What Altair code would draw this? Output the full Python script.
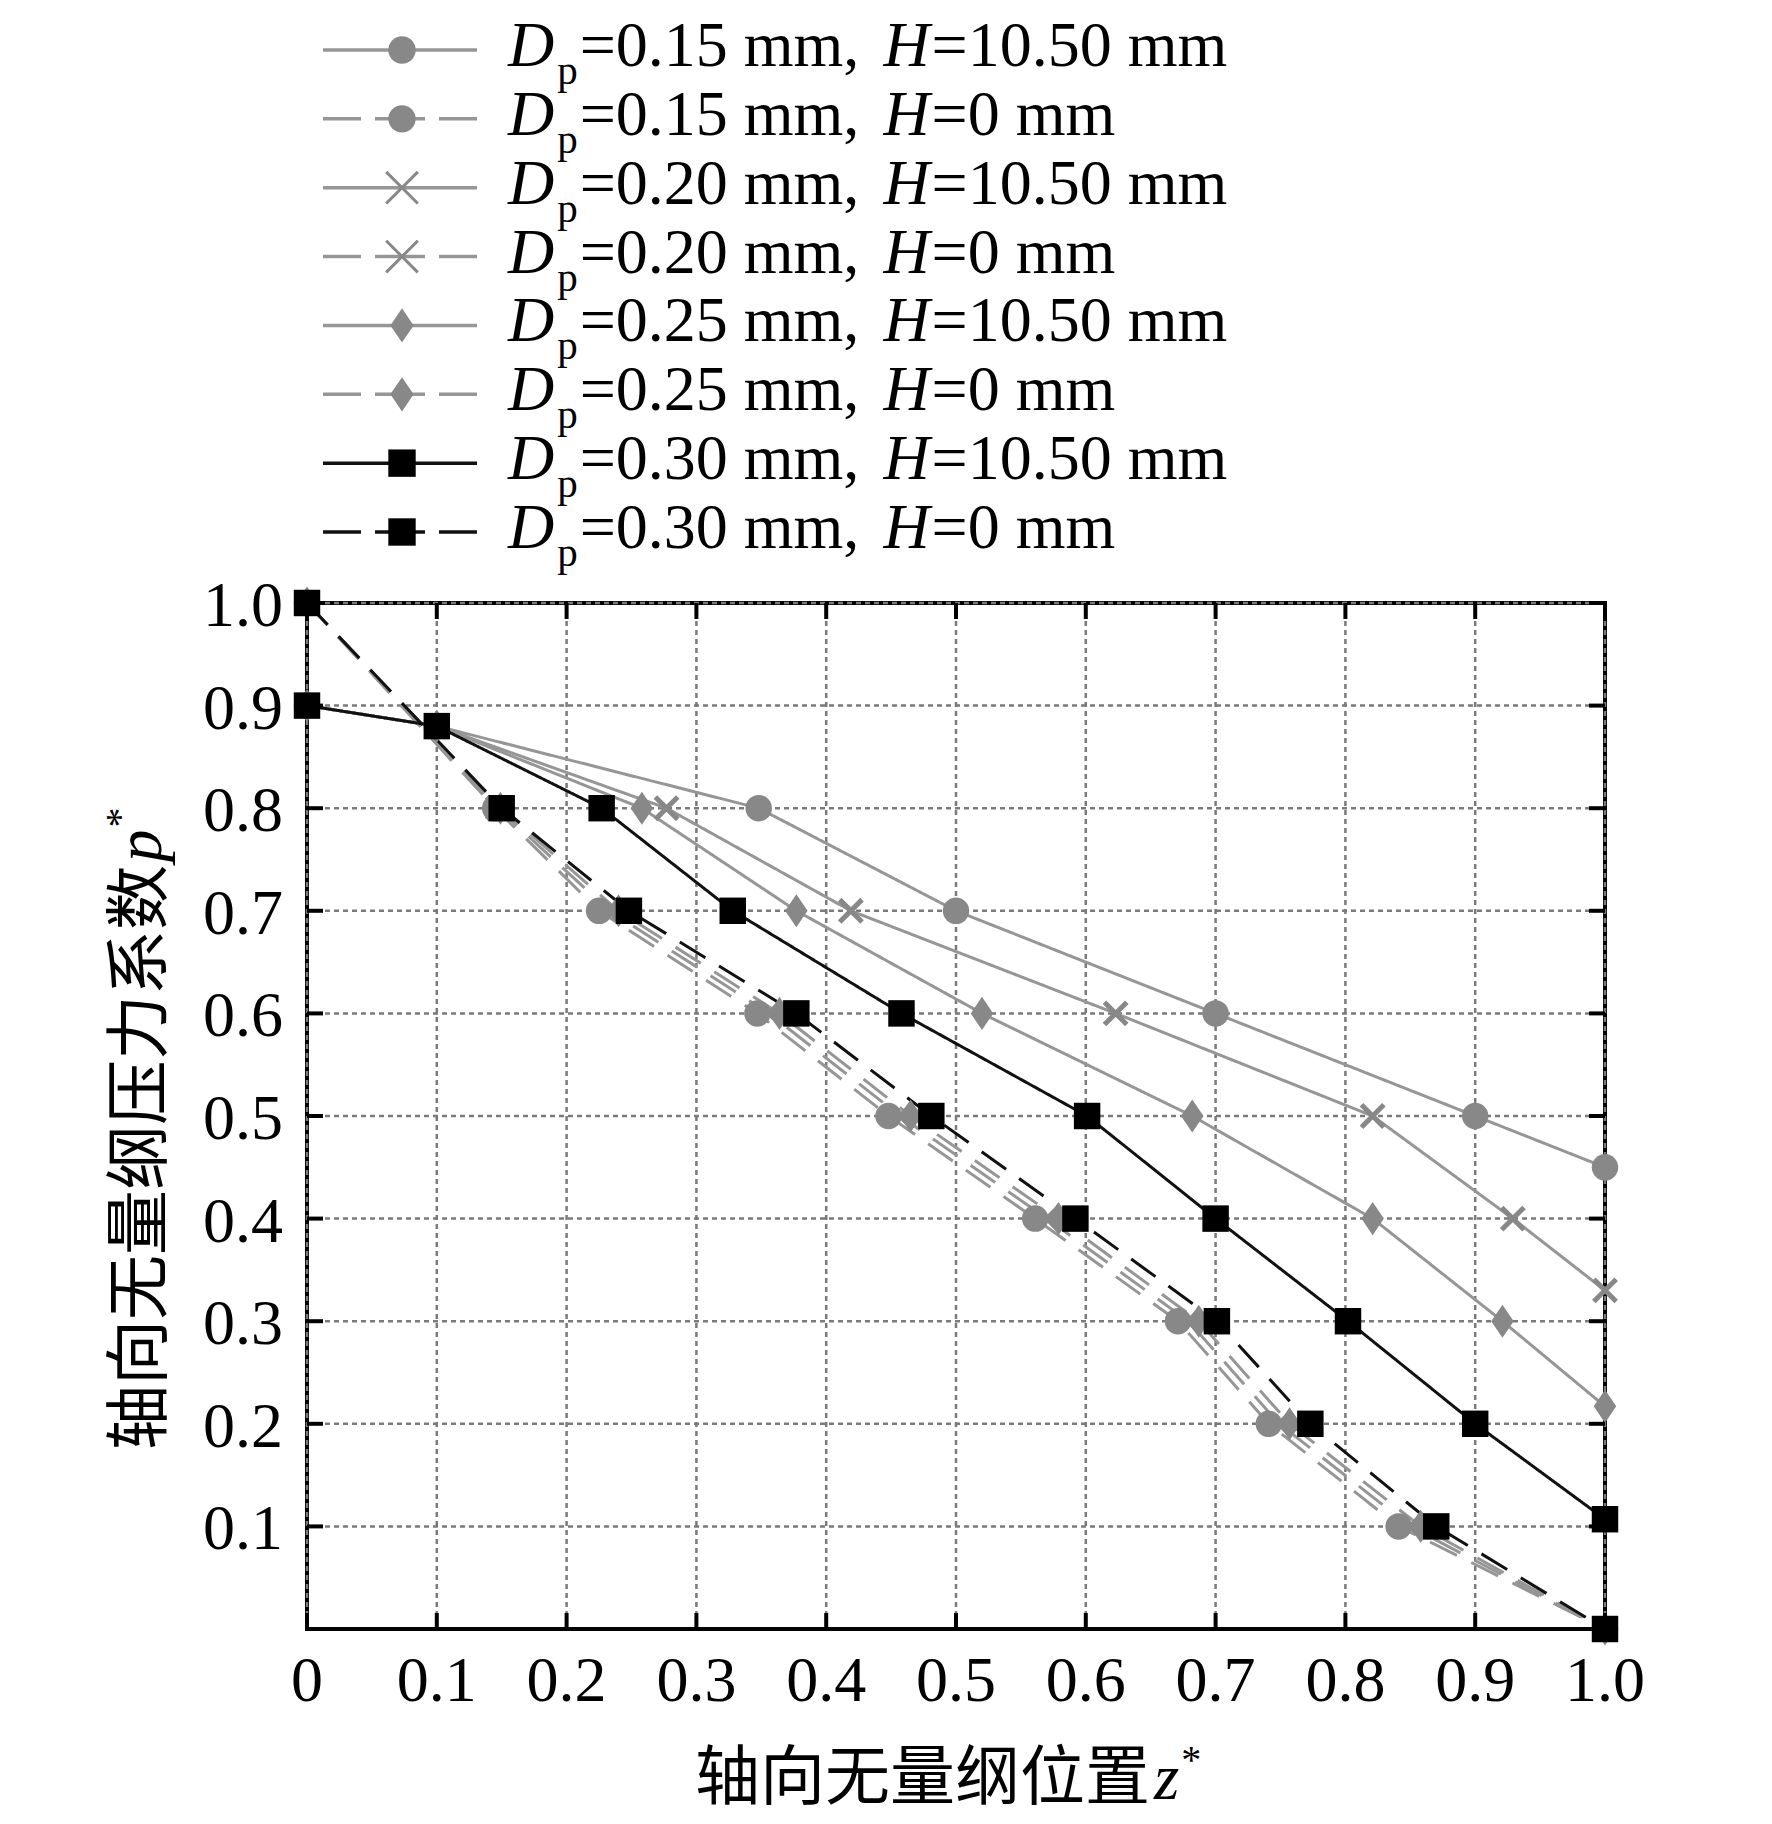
import altair as alt
import pandas as pd

# ------------------------------------------------------------------
# data
# ------------------------------------------------------------------
dp_labels = ["0.15", "0.20", "0.25", "0.30"]
h_labels = ["10.50", "0"]

z_015_h1050 = [0.0, 0.1, 0.348, 0.5, 0.7, 0.9, 1.0]
p_015_h1050 = [0.9, 0.88, 0.8, 0.7, 0.6, 0.5, 0.45]
z_015_h0 = [0.0, 0.145, 0.225, 0.347, 0.448, 0.561, 0.671, 0.741, 0.841, 1.0]
p_015_h0 = [1.0, 0.8, 0.7, 0.6, 0.5, 0.4, 0.3, 0.2, 0.1, 0.0]

z_020_h1050 = [0.0, 0.1, 0.277, 0.419, 0.623, 0.821, 0.929, 1.0]
p_020_h1050 = [0.9, 0.88, 0.8, 0.7, 0.6, 0.5, 0.4, 0.33]
z_020_h0 = [0.0, 0.147, 0.233, 0.356, 0.457, 0.570, 0.679, 0.749, 0.850, 1.0]
p_020_h0 = [1.0, 0.8, 0.7, 0.6, 0.5, 0.4, 0.3, 0.2, 0.1, 0.0]

z_025_h1050 = [0.0, 0.1, 0.258, 0.377, 0.52, 0.682, 0.821, 0.921, 1.0]
p_025_h1050 = [0.9, 0.88, 0.8, 0.7, 0.6, 0.5, 0.4, 0.3, 0.217]
z_025_h0 = [0.0, 0.149, 0.240, 0.364, 0.465, 0.579, 0.687, 0.757, 0.858, 1.0]
p_025_h0 = [1.0, 0.8, 0.7, 0.6, 0.5, 0.4, 0.3, 0.2, 0.1, 0.0]

z_030_h1050 = [0.0, 0.1, 0.227, 0.328, 0.458, 0.601, 0.7, 0.802, 0.9, 1.0]
p_030_h1050 = [0.9, 0.88, 0.8, 0.7, 0.6, 0.5, 0.4, 0.3, 0.2, 0.107]
z_030_h0 = [0.0, 0.15, 0.248, 0.377, 0.481, 0.592, 0.701, 0.773, 0.870, 1.0]
p_030_h0 = [1.0, 0.8, 0.7, 0.6, 0.5, 0.4, 0.3, 0.2, 0.1, 0.0]

x_tick_values = [0.0, 0.1, 0.2, 0.3, 0.4, 0.5, 0.6, 0.7, 0.8, 0.9, 1.0]
y_tick_values = [0.1, 0.2, 0.3, 0.4, 0.5, 0.6, 0.7, 0.8, 0.9, 1.0]

x_title_cn = "轴向无量纲位置"
x_title_var = "z"
y_title_cn = "轴向无量纲压力系数"
y_title_var = "p"

# ------------------------------------------------------------------
series = [
    ("0.15", "10.50", z_015_h1050, p_015_h1050),
    ("0.15", "0", z_015_h0, p_015_h0),
    ("0.20", "10.50", z_020_h1050, p_020_h1050),
    ("0.20", "0", z_020_h0, p_020_h0),
    ("0.25", "10.50", z_025_h1050, p_025_h1050),
    ("0.25", "0", z_025_h0, p_025_h0),
    ("0.30", "10.50", z_030_h1050, p_030_h1050),
    ("0.30", "0", z_030_h0, p_030_h0),
]
rows = []
for dp, h, zs, ps in series:
    for z, p in zip(zs, ps):
        rows.append({"series": f"{dp}|{h}", "dp": dp, "h": h, "z": z, "p": p})
df = pd.DataFrame(rows)

W, H = 1298, 1026
SERIF = "Liberation Serif"
CJK = "Noto Sans CJK SC"
GRAY_LINE = "#969696"
GRAY_MK = "#888888"
BLACK = "#000000"
GRID = "#7a7a7a"
DIAMOND = "M0,-1.25L0.85,0L0,1.25L-0.85,0Z"
XSHAPE = "M-1,-1L1,1M1,-1L-1,1"

xs = alt.Scale(domain=[0, 1], nice=False, zero=False)
ys = alt.Scale(domain=[0, 1], nice=False, zero=False)
stroke_scale = alt.Scale(domain=dp_labels, range=[GRAY_LINE, GRAY_LINE, GRAY_LINE, "#111111"])
fill_scale = alt.Scale(domain=dp_labels, range=[GRAY_MK, GRAY_MK, GRAY_MK, BLACK])
shape_scale = alt.Scale(domain=["0.15", "0.25", "0.30"], range=["circle", DIAMOND, "square"])
dash_scale = alt.Scale(domain=h_labels, range=[[1, 0], [30, 16]])


def X(f):
    return alt.X(f, scale=xs, axis=None)


def Y(f):
    return alt.Y(f, scale=ys, axis=None)


xt = pd.DataFrame({"v": x_tick_values})
yt = pd.DataFrame({"v": y_tick_values})

# dotted grid
grid_x = alt.Chart(xt).mark_rule(color=GRID, strokeWidth=2.5, strokeDash=[5, 4]).encode(
    x=X("v:Q"), y=alt.value(0), y2=alt.value(H))
grid_y = alt.Chart(yt).mark_rule(color=GRID, strokeWidth=2.5, strokeDash=[5, 4]).encode(
    y=Y("v:Q"), x=alt.value(0), x2=alt.value(W))

# tick labels
LBL = 64
lab_x = alt.Chart(xt).transform_calculate(
    lab="datum.v == 0 ? '0' : format(datum.v, '.1f')"
).mark_text(font=SERIF, fontSize=LBL, align="center", baseline="top", color="black").encode(
    x=X("v:Q"), y=alt.value(H + 21), text="lab:N")
lab_y = alt.Chart(yt).transform_calculate(
    lab="format(datum.v, '.1f')"
).mark_text(font=SERIF, fontSize=LBL, align="right", baseline="middle", dy=4, color="black").encode(
    y=Y("v:Q"), x=alt.value(-24), text="lab:N")

lines = alt.Chart(df).mark_line(strokeWidth=3).encode(
    x=X("z:Q"),
    y=Y("p:Q"),
    stroke=alt.Stroke("dp:N", scale=stroke_scale, legend=None),
    strokeDash=alt.StrokeDash("h:N", scale=dash_scale, legend=None),
    detail="series:N",
)

pts_gray = alt.Chart(df[df.dp.isin(["0.15", "0.25"])]).mark_point(
    filled=True, size=700, opacity=1).encode(
    x=X("z:Q"), y=Y("p:Q"),
    fill=alt.Fill("dp:N", scale=fill_scale, legend=None),
    shape=alt.Shape("dp:N", scale=shape_scale, legend=None),
)
pts_x = alt.Chart(df[df.dp == "0.20"]).mark_point(
    shape=XSHAPE, filled=False, size=500, strokeWidth=5, color=GRAY_MK, opacity=1).encode(
    x=X("z:Q"), y=Y("p:Q"),
)
pts_black = alt.Chart(df[df.dp == "0.30"]).mark_point(
    filled=True, size=700, opacity=1).encode(
    x=X("z:Q"), y=Y("p:Q"),
    fill=alt.Fill("dp:N", scale=fill_scale, legend=None),
    shape=alt.Shape("dp:N", scale=shape_scale, legend=None),
)

# inward ticks on all four sides
TL = 16
tick_b = alt.Chart(xt).mark_rule(color="black", strokeWidth=4).encode(
    x=X("v:Q"), y=alt.value(H), y2=alt.value(H - TL))
tick_t = alt.Chart(xt).mark_rule(color="black", strokeWidth=4).encode(
    x=X("v:Q"), y=alt.value(0), y2=alt.value(TL))
tick_l = alt.Chart(yt).mark_rule(color="black", strokeWidth=4).encode(
    y=Y("v:Q"), x=alt.value(0), x2=alt.value(TL))
tick_r = alt.Chart(yt).mark_rule(color="black", strokeWidth=4).encode(
    y=Y("v:Q"), x=alt.value(W), x2=alt.value(W - TL))

# ------------------------------------------------------------------
# legend (drawn above the plot, using the same scales)
# ------------------------------------------------------------------
def px_x(px):
    return px / W


def px_y(py):
    return 1 - py / H


ADV = {"0": 0.5, "1": 0.5, "2": 0.5, "3": 0.5, "4": 0.5, "5": 0.5, "6": 0.5,
       "7": 0.5, "8": 0.5, "9": 0.5, ".": 0.25, ",": 0.25, " ": 0.25,
       "=": 0.564, "m": 0.778}


def tw(s, fs):
    return sum(ADV[c] for c in s) * fs


LFS, SFS = 64, 41
ROW0, ROWLAST = -553, -71          # first / last legend row, px from plot top
ROWSTEP = (ROWLAST - ROW0) / 7
LINE_X0, LINE_X1, MK_X, TXT_X = 16, 170, 95, 201

leg = []
i = 0
for dp in dp_labels:
    for h in h_labels:
        py = ROW0 + ROWSTEP * i
        eq1 = "=" + dp + " mm, "
        eq2 = "=" + h + " mm"
        x_d = TXT_X
        x_p = x_d + 0.722 * LFS + 3
        x_e1 = x_p + 0.5 * SFS + 2
        x_h = x_e1 + tw(eq1, LFS) + 8
        x_e2 = x_h + 0.722 * LFS + 2
        leg.append({
            "dp": dp, "h": h, "ly": px_y(py),
            "lx0": px_x(LINE_X0), "lx1": px_x(LINE_X1), "mx": px_x(MK_X),
            "xd": px_x(x_d), "xp": px_x(x_p), "xe1": px_x(x_e1),
            "xh": px_x(x_h), "xe2": px_x(x_e2),
            "eq1": eq1, "eq2": eq2, "D": "D", "P": "p", "H": "H",
        })
        i += 1
ldf = pd.DataFrame(leg)

leg_solid = alt.Chart(ldf[ldf.h == "10.50"]).mark_rule(strokeWidth=3.5).encode(
    x=X("lx0:Q"), x2="lx1:Q", y=Y("ly:Q"),
    stroke=alt.Stroke("dp:N", scale=stroke_scale, legend=None))
leg_dash = alt.Chart(ldf[ldf.h == "0"]).mark_rule(strokeWidth=3.5, strokeDash=[38, 14, 50, 14]).encode(
    x=X("lx0:Q"), x2="lx1:Q", y=Y("ly:Q"),
    stroke=alt.Stroke("dp:N", scale=stroke_scale, legend=None))
leg_fill = alt.Chart(ldf[ldf.dp != "0.20"]).mark_point(filled=True, size=750, opacity=1).encode(
    x=X("mx:Q"), y=Y("ly:Q"),
    fill=alt.Fill("dp:N", scale=fill_scale, legend=None),
    shape=alt.Shape("dp:N", scale=shape_scale, legend=None))
leg_x = alt.Chart(ldf[ldf.dp == "0.20"]).mark_point(
    shape=XSHAPE, filled=False, size=1000, strokeWidth=3, color=GRAY_MK, opacity=1).encode(
    x=X("mx:Q"), y=Y("ly:Q"))


def leg_text(field, xfield, fs, italic, dy):
    kw = dict(font=SERIF, fontSize=fs, align="left", baseline="alphabetic", dy=dy, color="black")
    if italic:
        kw["fontStyle"] = "italic"
    return alt.Chart(ldf).mark_text(**kw).encode(x=X(f"{xfield}:Q"), y=Y("ly:Q"), text=f"{field}:N")


leg_texts = [
    leg_text("D", "xd", LFS, True, 16),
    leg_text("P", "xp", SFS, False, 34),
    leg_text("eq1", "xe1", LFS, False, 16),
    leg_text("H", "xh", LFS, True, 16),
    leg_text("eq2", "xe2", LFS, False, 16),
]

# ------------------------------------------------------------------
# axis titles
# ------------------------------------------------------------------
TFS = 65
XT_X, XT_Y = 388, 1196
xt_cn = alt.Chart(pd.DataFrame({"t": [x_title_cn]})).mark_text(
    font=CJK, fontSize=TFS, align="left", baseline="alphabetic", color="black").encode(
    text="t:N", x=alt.value(XT_X), y=alt.value(XT_Y))
xt_var_x = XT_X + len(x_title_cn) * TFS + 4
xt_var = alt.Chart(pd.DataFrame({"t": [x_title_var]})).mark_text(
    font=SERIF, fontSize=TFS, fontStyle="italic", align="left", baseline="alphabetic", color="black").encode(
    text="t:N", x=alt.value(xt_var_x), y=alt.value(XT_Y))
xt_star = alt.Chart(pd.DataFrame({"t": ["*"]})).mark_text(
    font=SERIF, fontSize=40, align="left", baseline="alphabetic", color="black").encode(
    text="t:N", x=alt.value(xt_var_x + 0.389 * TFS + 2), y=alt.value(XT_Y - 26))

YT_X, YT_Y = -146, 847
yt_cn = alt.Chart(pd.DataFrame({"t": [y_title_cn]})).mark_text(
    font=CJK, fontSize=TFS, align="left", baseline="alphabetic", angle=270, color="black").encode(
    text="t:N", x=alt.value(YT_X), y=alt.value(YT_Y))
yt_var_y = YT_Y - len(y_title_cn) * TFS - 3
yt_var = alt.Chart(pd.DataFrame({"t": [y_title_var]})).mark_text(
    font=SERIF, fontSize=TFS, fontStyle="italic", align="left", baseline="alphabetic", angle=270,
    color="black").encode(
    text="t:N", x=alt.value(YT_X), y=alt.value(yt_var_y))
yt_star = alt.Chart(pd.DataFrame({"t": ["*"]})).mark_text(
    font=SERIF, fontSize=40, align="left", baseline="alphabetic", angle=270, color="black").encode(
    text="t:N", x=alt.value(YT_X - 28), y=alt.value(yt_var_y - 0.5 * TFS - 2))

chart = alt.layer(
    grid_x, grid_y, lab_x, lab_y,
    lines, pts_gray, pts_x, pts_black,
    tick_b, tick_t, tick_l, tick_r,
    leg_solid, leg_dash, leg_fill, leg_x, *leg_texts,
    xt_cn, xt_var, xt_star, yt_cn, yt_var, yt_star,
).properties(
    width=W, height=H,
    autosize=alt.AutoSizeParams(type="none"),
    padding={"left": 299, "top": 595, "right": 159, "bottom": 190},
    background="white",
).configure_view(stroke="black", strokeWidth=4)

chart.save("out.html", embed_options={"renderer": "svg", "actions": False})
